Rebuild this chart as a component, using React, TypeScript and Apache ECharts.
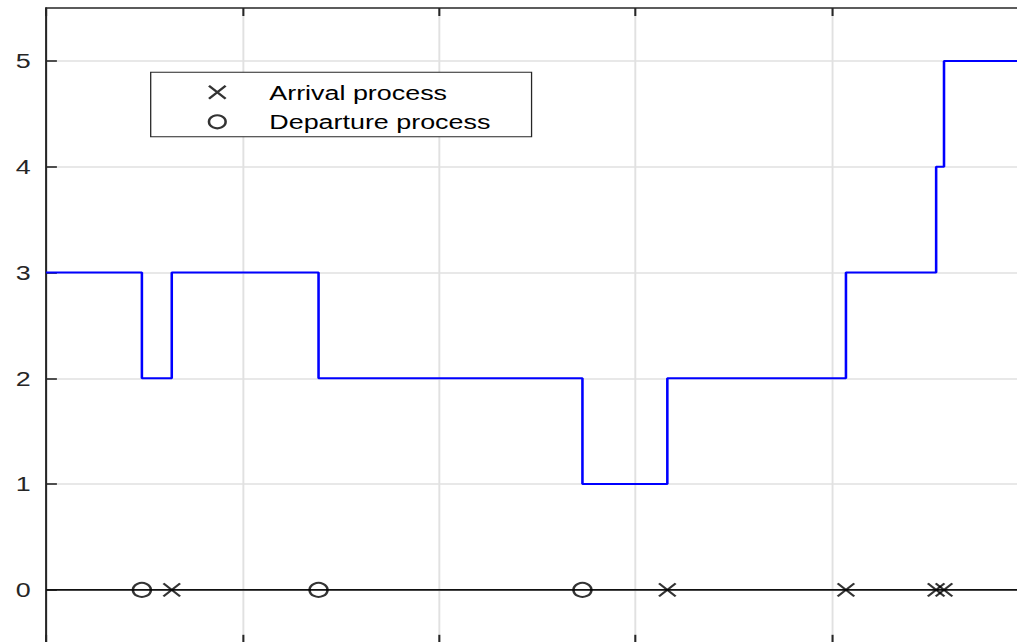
import React, { useEffect, useRef } from "react";
import * as echarts from "echarts";

// Queue length over time (step trace)
const stepTimes = [0, 4.88, 6.4, 13.87, 27.3, 31.62, 40.71, 45.3, 45.7, 50];
const queueLength = [3, 2, 3, 2, 1, 2, 3, 4, 5, 5];

// Event instants shown on the zero line
const arrivalTimes = [6.4, 31.62, 40.71, 45.3, 45.7];
const departureTimes = [4.88, 13.87, 27.3];

const yTickValues = [0, 1, 2, 3, 4, 5];
const xTickStep = 10;

const FONT = "'Liberation Sans', Arial, Helvetica, sans-serif";
const AXIS_COLOR = "#262626";
const GRID_COLOR = "#e1e1e1";

// The figure is drawn narrower and stretched horizontally to fill the page.
const PAGE_W = 1017;
const PAGE_H = 642;
const BASE_W = 794;
const STRETCH = PAGE_W / BASE_W;

const CROSS = "path://M0,0L10,10M10,0L0,10";

export default function App() {
  const ref = useRef<HTMLDivElement>(null);

  useEffect(() => {
    if (!ref.current) return;
    const chart = echarts.init(ref.current, undefined, { renderer: "svg" });

    chart.setOption({
      animation: false,
      backgroundColor: "#ffffff",
      grid: {
        left: 46 / STRETCH,
        top: 8,
        width: 982.5 / STRETCH,
        height: 634.8,
        containLabel: false,
        outerBoundsMode: "none",
      },
      legend: {
        orient: "vertical",
        left: 150.7 / STRETCH,
        top: 72.3,
        padding: [9.5, 32, 4.5, 44.5],
        itemWidth: 13,
        itemHeight: 13,
        itemGap: 8.5,
        backgroundColor: "#ffffff",
        borderColor: AXIS_COLOR,
        borderWidth: 1,
        selectedMode: false,
        itemStyle: { borderWidth: 2 },
        textStyle: {
          fontFamily: FONT,
          fontSize: 21,
          color: "#000000",
          padding: [0, 0, 0, 29.1],
        },
        data: [{ name: "Arrival process" }, { name: "Departure process" }],
      },
      xAxis: [
        {
          type: "value",
          position: "bottom",
          min: 0,
          max: 50,
          interval: xTickStep,
          axisLine: { show: true, onZero: false, lineStyle: { color: AXIS_COLOR, width: 1.6 } },
          axisTick: { show: true, inside: true, length: 8, lineStyle: { color: AXIS_COLOR, width: 1.6 } },
          axisLabel: { show: false },
          splitLine: { show: true, lineStyle: { color: GRID_COLOR, width: 1.5 } },
        },
        {
          type: "value",
          position: "top",
          min: 0,
          max: 50,
          interval: xTickStep,
          axisLine: { show: true, onZero: false, lineStyle: { color: AXIS_COLOR, width: 1.6 } },
          axisTick: { show: true, inside: true, length: 8, lineStyle: { color: AXIS_COLOR, width: 1.6 } },
          axisLabel: { show: false },
          splitLine: { show: false },
        },
      ],
      yAxis: {
        type: "value",
        min: -0.5,
        max: 5.5,
        splitNumber: 6,
        axisLine: { show: true, onZero: false, lineStyle: { color: AXIS_COLOR, width: 1.6 } },
        axisTick: {
          show: true,
          inside: true,
          length: 8.5,
          customValues: yTickValues,
          lineStyle: { color: AXIS_COLOR, width: 1.6 },
        },
        axisLabel: {
          show: true,
          margin: 12,
          customValues: yTickValues,
          fontFamily: FONT,
          fontSize: 21,
          color: AXIS_COLOR,
        },
        splitLine: { show: true, lineStyle: { color: GRID_COLOR, width: 1.5 } },
      },
      series: [
        {
          name: "zero",
          type: "line",
          data: [
            [0, 0],
            [50, 0],
          ],
          showSymbol: false,
          silent: true,
          lineStyle: { color: "#111111", width: 1.8 },
          z: 2,
        },
        {
          name: "Queue length",
          type: "line",
          step: "end",
          data: stepTimes.map((t, i) => [t, queueLength[i]]),
          showSymbol: false,
          silent: true,
          lineStyle: { color: "#0000ff", width: 2 },
          z: 3,
        },
        {
          name: "Arrival process",
          type: "scatter",
          data: arrivalTimes.map((t) => [t, 0]),
          symbol: CROSS,
          symbolSize: 13,
          silent: true,
          itemStyle: { color: "rgba(0,0,0,0)", borderColor: "#000000", borderWidth: 2 },
          z: 5,
        },
        {
          name: "Departure process",
          type: "scatter",
          data: departureTimes.map((t) => [t, 0]),
          symbol: "circle",
          symbolSize: 14,
          silent: true,
          itemStyle: { color: "rgba(0,0,0,0)", borderColor: "#000000", borderWidth: 2 },
          z: 5,
        },
      ],
    });

    return () => chart.dispose();
  }, []);

  return (
    <div
      ref={ref}
      style={{
        position: "absolute",
        left: 0,
        top: 0,
        width: BASE_W,
        height: PAGE_H,
        transform: `scaleX(${STRETCH})`,
        transformOrigin: "0 0",
      }}
    />
  );
}
